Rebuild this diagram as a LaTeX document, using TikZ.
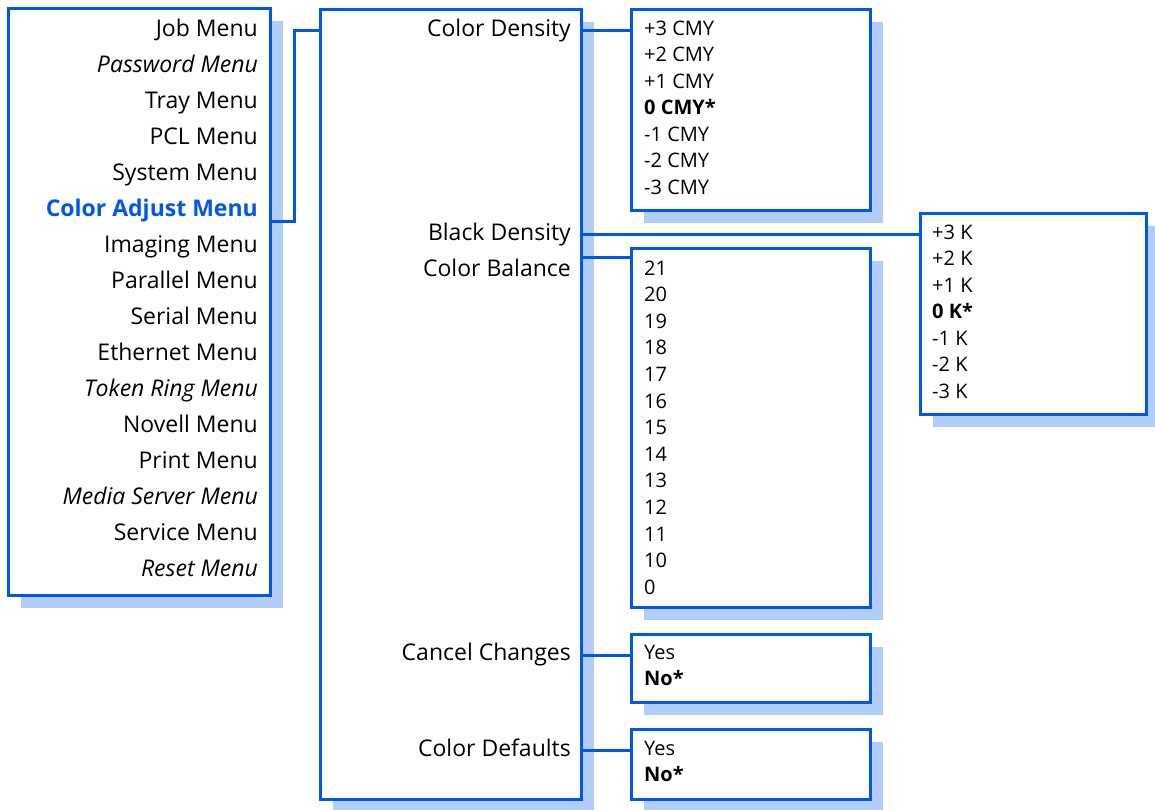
\documentclass[tikz,border=0pt]{standalone}
\usepackage{fontspec}
\setmainfont{Open Sans}
\usetikzlibrary{shadows}
\definecolor{menublue}{RGB}{0,88,232}
\definecolor{shadeblue}{RGB}{178,205,247}
\newcommand{\mainsize}{\fontsize{23}{27}\selectfont}
\newcommand{\subsize}{\fontsize{20}{24}\selectfont}

\begin{document}
\begin{tikzpicture}[x=1pt,y=-1pt,
    menubox/.style={draw=menublue,line width=3pt,fill=white,inner sep=0pt,
      drop shadow={shadow xshift=12.5pt,shadow yshift=-12.5pt,fill=shadeblue,opacity=1}},
    link/.style={draw=menublue,line width=3pt},
    mainitem/.style={anchor=base east,inner sep=0pt,font=\mainsize},
    subitem/.style={anchor=base west,inner sep=0pt,font=\subsize}]
  \useasboundingbox (0,0) rectangle (1155,809);

  % boxes
  \node[menubox,minimum width=262pt,minimum height=587pt] (top) at (139.5,302) {};
  \node[menubox,minimum width=261pt,minimum height=790pt] (mid) at (451,404.5) {};
  \node[menubox,minimum width=239pt,minimum height=201pt] (cmy) at (751,110) {};
  \node[menubox,minimum width=226pt,minimum height=201pt] (kbox) at (1033.5,314) {};
  \node[menubox,minimum width=239pt,minimum height=359pt] (bal) at (751,428) {};
  \node[menubox,minimum width=239pt,minimum height=68pt] (cancel) at (751,668.5) {};
  \node[menubox,minimum width=239pt,minimum height=70pt] (deflt) at (751,764.5) {};

  % top level menu
  \foreach \t/\f [count=\i from 0] in {Job Menu/\upshape, Password Menu/\itshape,
      Tray Menu/\upshape, PCL Menu/\upshape, System Menu/\upshape,
      Color Adjust Menu/\bfseries\color{menublue}, Imaging Menu/\upshape,
      Parallel Menu/\upshape, Serial Menu/\upshape, Ethernet Menu/\upshape,
      Token Ring Menu/\itshape, Novell Menu/\upshape, Print Menu/\upshape,
      Media Server Menu/\itshape, Service Menu/\upshape, Reset Menu/\itshape}
    \node[mainitem] (top\i) at (258,36+36*\i) {\f\t};

  % color adjust menu
  \node[mainitem] (dens) at (571,36) {Color Density};
  \node[mainitem] (black) at (571,240) {Black Density};
  \node[mainitem] (balance) at (571,276) {Color Balance};
  \node[mainitem] (cancelch) at (571,660) {Cancel Changes};
  \node[mainitem] (defaults) at (571,756) {Color Defaults};

  % values
  \foreach \t/\f/\m [count=\i from 0] in {+3/\mdseries/, +2/\mdseries/, +1/\mdseries/,
      0/\bfseries/*, -1/\mdseries/, -2/\mdseries/, -3/\mdseries/}{
    \node[subitem] (cmy\i) at (644,35+26.5*\i) {\f\t{} CMY\m};
    \node[subitem] (k\i) at (932,239+26.5*\i) {\f\t{} K\m};
  }
  \foreach \t [count=\i from 0] in {21,20,...,10,0}
    \node[subitem] (bal\i) at (644,275+26.6*\i) {\t};
  \node[subitem] (yes1) at (644,659) {Yes};
  \node[subitem] (no1) at (644,685) {\bfseries No*};
  \node[subitem] (yes2) at (644,755) {Yes};
  \node[subitem] (no2) at (644,781) {\bfseries No*};

  % connectors
  \coordinate (adjtap) at ([yshift=-5pt]top5.base);
  \coordinate (midtap) at ([yshift=-22.5pt]mid.north west);
  \draw[link] (top.east |- adjtap) -| ([xshift=-24.5pt]midtap) -- (midtap);
  \foreach \b in {cmy,kbox,cancel,deflt}{
    \coordinate (\b tap) at ([yshift=-22.5pt]\b.north west);
    \draw[link] (mid.east |- \b tap) -- (\b tap);
  }
  \coordinate (baltap) at ([yshift=-10.5pt]bal.north west);
  \draw[link] (mid.east |- baltap) -- (baltap);
\end{tikzpicture}
\end{document}
